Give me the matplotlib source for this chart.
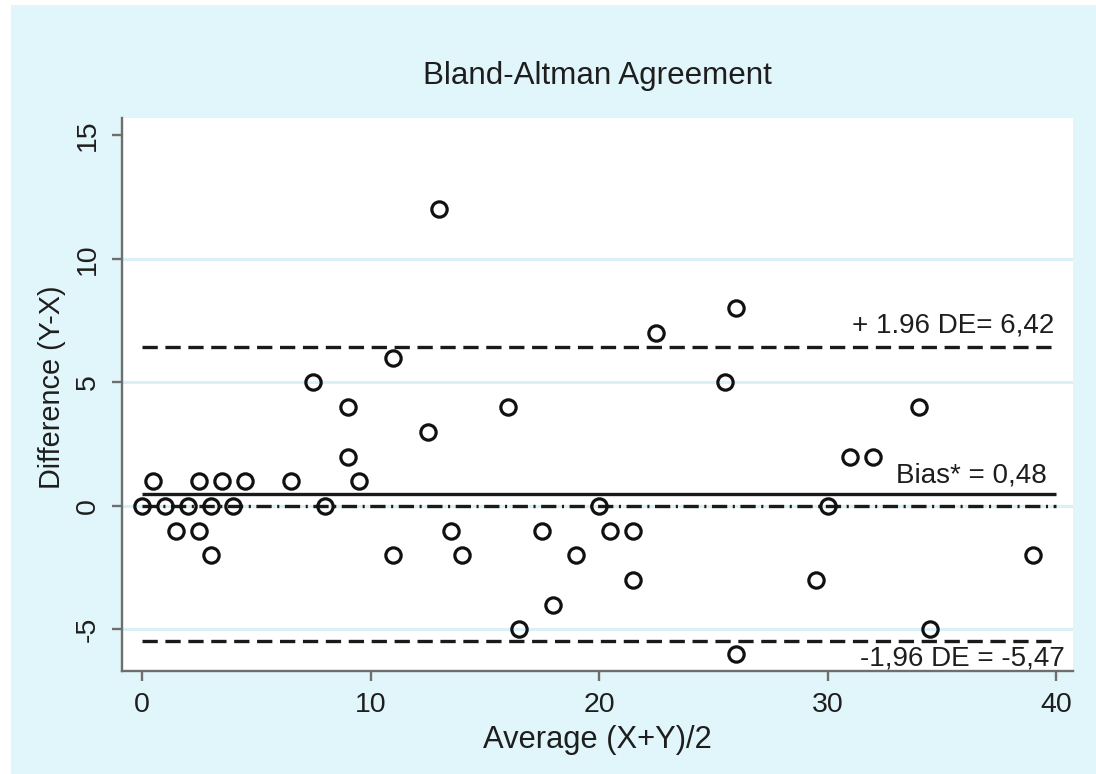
import matplotlib
matplotlib.use("Agg")
import matplotlib.pyplot as plt
from matplotlib.patches import Rectangle

plt.rcParams['font.family'] = ['Liberation Sans', 'DejaVu Sans']
plt.rcParams['lines.scale_dashes'] = False
plt.rcParams['axes.unicode_minus'] = False

# Data (average, difference)
avg = [0, 0.5, 1, 1.5, 2, 2.5, 2.5, 3, 3, 3.5, 4, 4.5, 6.5, 7.5, 8, 9, 9, 9.5,
       11, 11, 12.5, 13, 13.5, 14, 16, 16.5, 17.5, 18, 19, 20, 20.5, 21.5, 21.5,
       22.5, 25.5, 26, 26, 29.5, 30, 31, 32, 34, 34.5, 39]
diff = [0, 1, 0, -1, 0, 1, -1, 0, -2, 1, 0, 1, 1, 5, 0, 4, 2, 1,
        6, -2, 3, 12, -1, -2, 4, -5, -1, -4, -2, 0, -1, -1, -3,
        7, 5, 8, -6, -3, 0, 2, 2, 4, -5, -2]

bias = 0.48
upper = 6.42
lower = -5.47
line_x = [0, 40]
xticks = [0, 10, 20, 30, 40]
yticks = [-5, 0, 5, 10, 15]
grid_y = [-5, 0, 5, 10]

title = "Bland-Altman Agreement"
xlabel = "Average (X+Y)/2"
ylabel = "Difference (Y-X)"
upper_label = "+ 1.96 DE= 6,42"
bias_label = "Bias* = 0,48"
lower_label = "-1,96 DE = -5,47"

bg = '#e1f6fa'
grid_c = '#d9f1f6'
txt_c = '#1e1e1e'
spine_c = '#6e6e6e'

W, H = 1096, 774
fig = plt.figure(figsize=(W / 100, H / 100), dpi=100)
fig.patch.set_facecolor('white')
fig.patches.append(Rectangle((11 / W, 0), 1, 1 - 5 / H, transform=fig.transFigure,
                             facecolor=bg, edgecolor='none', zorder=-10))

left, right, top, bottom = 122, 1073, 118, 671
ax = fig.add_axes([left / W, 1 - bottom / H, (right - left) / W, (bottom - top) / H])
ax.set_facecolor('white')
ax.set_xlim(-0.875, 40.74)
ax.set_ylim(-6.68, 15.7)

for s in ['top', 'right']:
    ax.spines[s].set_visible(False)
for s in ['left', 'bottom']:
    ax.spines[s].set_color(spine_c)
    ax.spines[s].set_linewidth(1.7)

for g in grid_y:
    ax.axhline(g, color=grid_c, lw=2.2, zorder=0)

lw = 2.4
ax.plot(line_x, [upper, upper], color='#1a1a1a', lw=lw, dashes=(11, 5.5), zorder=2)
ax.plot(line_x, [lower, lower], color='#1a1a1a', lw=lw, dashes=(11, 5.5), zorder=2)
ax.plot(line_x, [bias, bias], color='#1a1a1a', lw=lw, solid_capstyle='butt', zorder=2)
ax.plot(line_x, [0, 0], color='#1a1a1a', lw=lw, dashes=(11, 4, 1.5, 4), zorder=2)

ax.plot(avg, diff, linestyle='none', marker='o', markersize=11, markerfacecolor='none',
        markeredgecolor='#111111', markeredgewidth=2.3, zorder=3)

ax.text(39.9, 7.0, upper_label, ha='right', va='baseline', fontsize=20, color=txt_c)
ax.text(39.6, 0.93, bias_label, ha='right', va='baseline', fontsize=20, color=txt_c)
ax.text(40.4, -6.44, lower_label, ha='right', va='baseline', fontsize=20, color=txt_c)

ax.set_xticks(xticks)
ax.set_yticks(yticks)
ax.tick_params(axis='both', direction='out', length=7, width=1.7, color=spine_c,
               labelsize=20.5, labelcolor=txt_c)
ax.tick_params(axis='x', pad=8)
ax.tick_params(axis='y', pad=8)
for lab in ax.get_yticklabels():
    lab.set_rotation(90)
    lab.set_va('center')

ax.set_xlabel(xlabel, fontsize=22.2, color=txt_c)
ax.set_ylabel(ylabel, fontsize=20.8, color=txt_c)
ax.xaxis.set_label_coords(0.5, -(740 - bottom) / (bottom - top), transform=ax.transAxes)
ax.yaxis.set_label_coords(-(left - 52) / (right - left), 0.5 - (387 - (top + bottom) / 2) / (bottom - top),
                          transform=ax.transAxes)
ax.xaxis.label.set_va('center')
ax.yaxis.label.set_va('center')

fig.text((left + right) / 2 / W, 1 - 76 / H, title, ha='center', va='center',
         fontsize=22.6, color=txt_c)

fig.savefig('out.png', dpi=100, facecolor=fig.get_facecolor())
